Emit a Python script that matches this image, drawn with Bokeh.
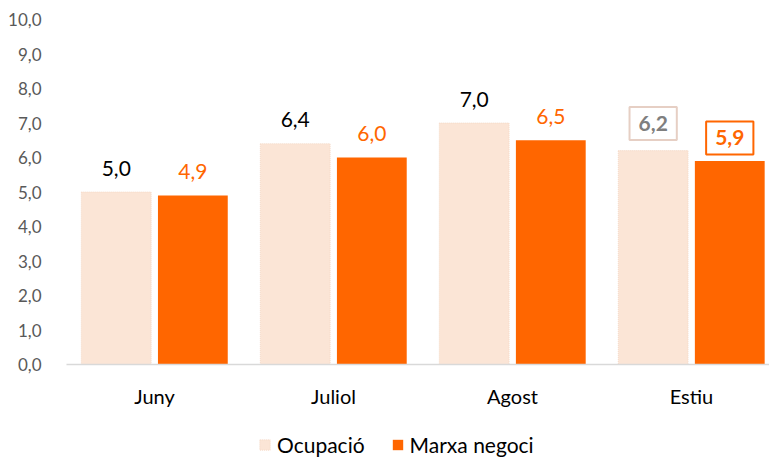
from bokeh.plotting import figure
from bokeh.layouts import column
from bokeh.models import ColumnDataSource, Legend, LegendItem, FixedTicker, Range1d
from bokeh.transform import dodge
from bokeh.core.properties import value
from bokeh.embed import file_html
from bokeh.resources import INLINE

categories = ["Juny", "Juliol", "Agost", "Estiu"]
ocupacio = [5.0, 6.4, 7.0, 6.2]
marxa = [4.9, 6.0, 6.5, 5.9]
y_ticks = [0, 1, 2, 3, 4, 5, 6, 7, 8, 9, 10]
series_names = ["Ocupació", "Marxa negoci"]

FONT = "Lato"
C_OCU = "#FBE5D6"
C_MAR = "#FF6600"

xs = list(range(len(categories)))
fmt = lambda v: f"{v:.1f}".replace(".", ",")

src = ColumnDataSource(dict(x=xs, ocu=ocupacio, mar=marxa))

p = figure(frame_width=703, frame_height=345, output_backend="svg", toolbar_location=None,
           x_range=Range1d(-0.492, 3.436), y_range=Range1d(0, 10),
           min_border_left=66, min_border_right=0, min_border_top=19, min_border_bottom=68)
p.outline_line_color = None
p.grid.grid_line_color = None

OCU_STYLE = dict(fill_color=C_OCU, line_color="#F3D5C2", line_dash="1 1", line_width=0.8)
MAR_STYLE = dict(fill_color=C_MAR, line_color=None)

p.vbar(x=dodge("x", -0.214, range=p.x_range), top="ocu", width=0.39, source=src, **OCU_STYLE)
p.vbar(x=dodge("x", 0.214, range=p.x_range), top="mar", width=0.39, source=src, **MAR_STYLE)

n = len(categories)
lbl_src = ColumnDataSource(dict(
    x=xs[:n-1], ocu=ocupacio[:n-1], mar=marxa[:n-1],
    ocu_lbl=[fmt(v) for v in ocupacio[:n-1]], mar_lbl=[fmt(v) for v in marxa[:n-1]],
))
p.text(x=dodge("x", -0.214, range=p.x_range), y="ocu", text="ocu_lbl", source=lbl_src,
       text_font=value(FONT), text_font_size="21px", text_color="#000000",
       text_align="center", text_baseline="middle", y_offset=-24)
p.text(x=dodge("x", 0.214, range=p.x_range), y="mar", text="mar_lbl", source=lbl_src,
       text_font=value(FONT), text_font_size="21px", text_color="#FF6600",
       text_align="center", text_baseline="middle", y_offset=-24)

last_src = ColumnDataSource(dict(
    x=xs[n-1:], ocu=ocupacio[n-1:], mar=marxa[n-1:],
    ocu_lbl=[fmt(v) for v in ocupacio[n-1:]], mar_lbl=[fmt(v) for v in marxa[n-1:]],
))
p.text(x=dodge("x", -0.214, range=p.x_range), y="ocu", text="ocu_lbl", source=last_src,
       text_font=value(FONT), text_font_size="21px", text_font_style="bold",
       text_color="#7F7F7F", text_align="center", text_baseline="middle", y_offset=-27,
       border_line_color="#E6CFC4", border_line_width=2, padding=9,
       background_fill_color="white")
p.text(x=dodge("x", 0.214, range=p.x_range), y="mar", text="mar_lbl", source=last_src,
       text_font=value(FONT), text_font_size="21px", text_font_style="bold",
       text_color="#FF6600", text_align="center", text_baseline="middle", y_offset=-23,
       border_line_color="#FF6600", border_line_width=2, padding=9,
       background_fill_color="white")

p.yaxis.ticker = FixedTicker(ticks=y_ticks)
p.yaxis.major_label_overrides = {t: fmt(t) for t in y_ticks}
p.yaxis.axis_line_color = None
p.yaxis.major_tick_line_color = None
p.yaxis.minor_tick_line_color = None
p.yaxis.major_label_text_font = FONT
p.yaxis.major_label_text_font_size = "17px"
p.yaxis.major_label_text_color = "#595959"
p.yaxis.major_label_standoff = 19

p.xaxis.ticker = FixedTicker(ticks=xs)
p.xaxis.major_label_overrides = {i: c for i, c in enumerate(categories)}
p.xaxis.axis_line_color = "#D9D9D9"
p.xaxis.axis_line_width = 1.5
p.xaxis.major_tick_line_color = None
p.xaxis.minor_tick_line_color = None
p.xaxis.major_label_text_font = FONT
p.xaxis.major_label_text_font_size = "20px"
p.xaxis.major_label_text_color = "#000000"
p.xaxis.major_label_standoff = 13

# legend strip below the chart (hidden renderers only feed the legend swatches)
lg = figure(width=769, height=25, output_backend="svg", toolbar_location=None,
            x_range=Range1d(-0.492, 3.436), y_range=Range1d(0, 10),
            x_axis_location=None, y_axis_location=None,
            min_border=0, min_border_left=0, min_border_right=0,
            min_border_top=0, min_border_bottom=0)
lg.outline_line_color = None
lg.grid.grid_line_color = None
k1 = lg.vbar(x="x", top="ocu", width=0.39, source=src, visible=False, **OCU_STYLE)
k2 = lg.vbar(x="x", top="mar", width=0.39, source=src, visible=False, **MAR_STYLE)
legend = Legend(items=[LegendItem(label=series_names[0], renderers=[k1]),
                       LegendItem(label=series_names[1], renderers=[k2])],
                orientation="horizontal", location=(192, 0),
                label_text_font=FONT, label_text_font_size="21px", label_text_color="#000000",
                glyph_width=13, glyph_height=13, label_standoff=6, spacing=26,
                label_height=21, padding=0, margin=0, border_line_color=None,
                background_fill_alpha=0, inactive_fill_alpha=0)
lg.add_layout(legend, "center")

layout = column(p, lg, spacing=0)
open("out.html", "w").write(file_html(layout, INLINE))
